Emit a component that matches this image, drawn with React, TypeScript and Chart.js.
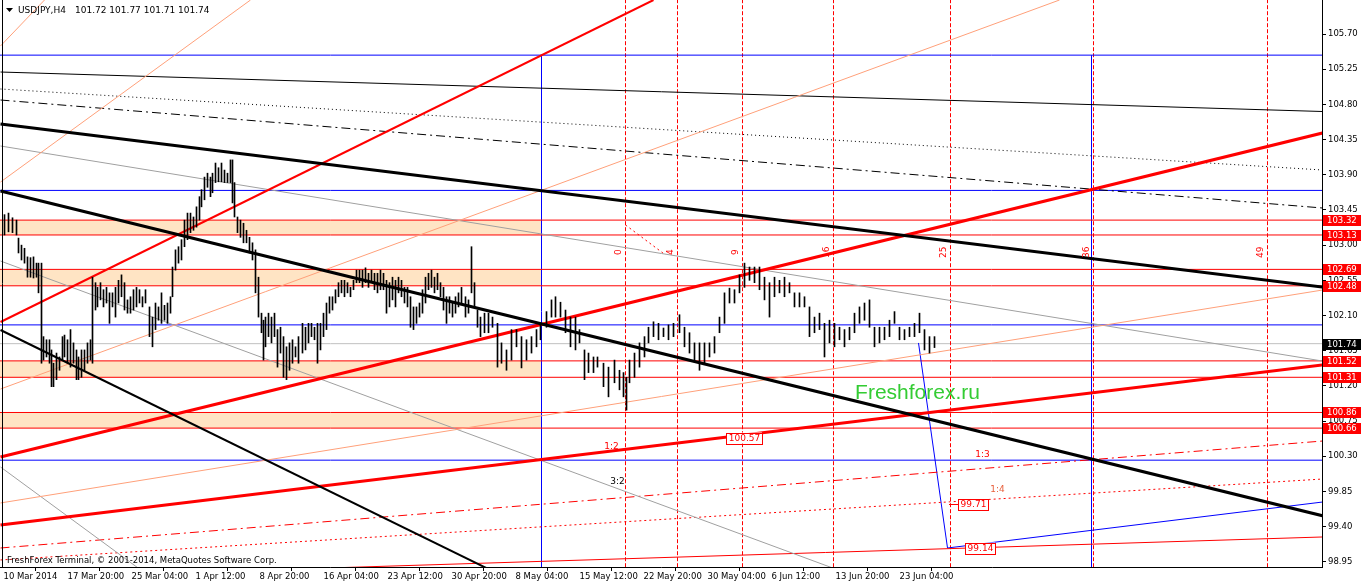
import React, { useEffect, useRef } from "react";
import { Chart, registerables } from "chart.js";

Chart.register(...registerables);

// ---------- axis ranges ----------
const PRICE_MIN = 98.884;
const PRICE_MAX = 106.135;
const BAR_MIN = -1.75;
const BAR_MAX = 659.25;

// ---------- tick labels ----------
const yTickValues = [98.95, 99.4, 99.85, 100.3, 100.75, 101.2, 101.65, 102.1, 102.55, 103.0, 103.45, 103.9, 104.35, 104.8, 105.25, 105.7];
const xTickBars = [0, 32, 64, 96, 128, 160, 192, 224, 256, 288, 320, 352, 384, 416, 448];
const xTickLabels = [
  "10 Mar 2014", "17 Mar 20:00", "25 Mar 04:00", "1 Apr 12:00", "8 Apr 20:00", "16 Apr 04:00",
  "23 Apr 12:00", "30 Apr 20:00", "8 May 04:00", "15 May 12:00", "22 May 20:00", "30 May 04:00",
  "6 Jun 12:00", "13 Jun 20:00", "23 Jun 04:00",
];

// ---------- price bars: [bar, low, high] ----------
const candles: [number, number, number][] = [
  [0.5,103.13,103.39],[2.5,103.17,103.41],[4.5,103.16,103.35],[6.5,103.13,103.32],[7.5,102.90,103.09],[9,102.81,103.00],[10.5,102.77,102.96],[12,102.59,102.85],[13.5,102.59,102.84],[15,102.58,102.85],[16.5,102.59,102.77],[17.5,102.39,102.77],[19,101.49,102.77],[20,101.53,101.83],[21.5,101.57,101.79],[23,101.49,101.79],[24,101.19,101.66],[25,101.19,101.49],[26.5,101.28,101.62],[28,101.40,101.57],[29.5,101.53,101.83],[30.5,101.57,101.85],[32,101.49,101.79],[33.5,101.44,101.92],[35,101.49,101.75],[36.5,101.28,101.66],[37.5,101.28,101.57],[39,101.31,101.66],[40.5,101.40,101.66],[42,101.49,101.75],[43.5,101.53,101.79],[44.5,101.49,102.59],[46,102.17,102.52],[47,102.21,102.46],[48.5,102.30,102.52],[50,102.21,102.43],[51.5,102.26,102.46],[53,102.00,102.39],[54.5,102.21,102.39],[56,102.08,102.46],[57.5,102.26,102.55],[59,102.34,102.62],[60.5,102.17,102.52],[62,102.13,102.30],[63.5,102.13,102.34],[65,102.17,102.43],[66.5,102.21,102.46],[68,102.26,102.43],[69.5,102.21,102.34],[71,102.26,102.43],[73,101.83,102.21],[74.5,101.70,102.08],[76,101.92,102.26],[77.5,102.04,102.21],[79,102.00,102.39],[80.5,102.04,102.23],[82,102.00,102.26],[83.5,102.13,102.34],[84.5,102.34,102.72],[86,102.68,102.94],[87.5,102.77,102.98],[89,102.81,103.07],[90.5,102.98,103.32],[92,103.07,103.41],[93.5,103.16,103.41],[95,103.19,103.36],[96.5,103.23,103.49],[98,103.32,103.62],[99,103.49,103.71],[100.5,103.58,103.87],[102,103.74,103.92],[103.5,103.62,103.87],[104.5,103.67,103.92],[106,103.80,104.05],[107.5,103.81,103.99],[109,103.81,104.05],[110.5,103.80,103.96],[112,103.80,103.92],[113.5,103.80,104.09],[114.5,103.54,104.09],[115.5,103.36,103.80],[117,103.16,103.36],[118.5,103.10,103.32],[120,103.03,103.28],[121.5,103.03,103.19],[123,102.90,103.10],[124.5,102.81,103.03],[126,102.39,102.94],[127.5,102.08,102.59],[129,101.88,102.13],[130,101.53,102.04],[131,101.70,102.08],[132.5,101.83,102.13],[134,101.75,102.08],[135.5,101.83,102.13],[137,101.44,101.92],[138.5,101.62,101.95],[140,101.31,101.83],[141.5,101.28,101.70],[143,101.40,101.75],[144.5,101.49,101.79],[146,101.57,101.70],[147.5,101.49,101.83],[149.5,101.62,102.00],[151,101.66,101.95],[152.5,101.75,102.00],[154,101.83,102.00],[155.5,101.79,101.95],[157,101.49,102.00],[158.5,101.66,102.00],[160,101.83,102.13],[161.5,101.92,102.26],[163,102.13,102.34],[164.5,102.17,102.34],[166,102.26,102.43],[167.5,102.34,102.52],[169,102.39,102.55],[170.5,102.34,102.55],[172,102.39,102.52],[173.5,102.34,102.46],[175,102.43,102.55],[176.5,102.52,102.68],[178,102.52,102.68],[179.5,102.46,102.68],[181,102.52,102.71],[182.5,102.46,102.64],[184,102.52,102.68],[185.5,102.43,102.64],[187,102.39,102.64],[188.5,102.43,102.68],[190,102.43,102.64],[191.5,102.13,102.55],[193,102.21,102.52],[194.5,102.30,102.59],[196,102.21,102.55],[197.5,102.39,102.59],[199,102.34,102.55],[200.5,102.26,102.46],[202,102.21,102.46],[203.5,101.95,102.34],[205,101.92,102.21],[206.5,102.00,102.21],[208,102.08,102.26],[209.5,102.13,102.43],[211,102.26,102.59],[212.5,102.43,102.64],[214,102.46,102.68],[215.5,102.39,102.59],[217,102.43,102.64],[218.5,102.34,102.52],[220,102.17,102.46],[221.5,102.00,102.34],[223,102.13,102.34],[224.5,102.08,102.26],[226,102.13,102.34],[227.5,102.21,102.39],[229,102.26,102.46],[231,102.08,102.34],[232.5,102.13,102.30],[234,102.39,102.98],[235.5,102.21,102.52],[237,101.95,102.17],[238.5,101.83,102.08],[240.5,101.88,102.13],[242.5,101.88,102.13],[244.5,101.95,102.08],[247,101.44,102.00],[249,101.49,101.75],[251.5,101.40,101.66],[254,101.53,101.92],[256.5,101.70,101.92],[259,101.43,101.83],[261.5,101.53,101.79],[264,101.62,101.83],[266.5,101.70,101.92],[268.5,101.79,102.00],[271.5,101.95,102.15],[274,102.08,102.30],[276,102.08,102.34],[278.5,102.08,102.27],[281,101.88,102.17],[283.5,101.70,102.08],[286,101.66,102.08],[288,101.75,101.92],[290.5,101.28,101.66],[292.5,101.37,101.62],[295,101.37,101.57],[297,101.44,101.57],[300,101.19,101.49],[302.5,101.06,101.44],[305.5,101.24,101.53],[308,101.15,101.40],[310,101.06,101.37],[311.5,100.89,101.31],[313,101.24,101.53],[315.5,101.31,101.62],[318,101.44,101.75],[320.5,101.57,101.83],[322.5,101.75,101.95],[325,101.83,102.02],[327.5,101.79,102.00],[330,101.83,101.94],[332.5,101.79,101.98],[335,101.83,102.00],[338,101.88,102.11],[340.5,101.70,101.95],[343,101.62,101.88],[345.5,101.53,101.75],[348,101.40,101.75],[350.5,101.49,101.75],[353,101.57,101.75],[355.5,101.62,101.83],[358,101.88,102.08],[360.5,102.00,102.39],[363,102.26,102.45],[365.5,102.26,102.43],[368,102.39,102.62],[370.5,102.46,102.77],[373,102.55,102.72],[375.5,102.52,102.72],[378,102.43,102.72],[380.5,102.30,102.59],[383,102.08,102.52],[385.5,102.34,102.59],[388,102.39,102.55],[390.5,102.34,102.59],[393,102.39,102.52],[395.5,102.21,102.39],[398,102.21,102.39],[400.5,102.21,102.34],[403,101.83,102.21],[405.5,101.88,102.08],[408,101.92,102.13],[410.5,101.57,102.00],[413,101.75,102.04],[415.5,101.70,102.00],[418,101.79,101.95],[420.5,101.70,101.92],[423,101.79,101.95],[425.5,101.88,102.13],[428,102.00,102.21],[430.5,102.04,102.26],[433,101.95,102.30],[435.5,101.70,101.95],[438,101.75,101.95],[440.5,101.79,101.95],[443,101.83,102.04],[445.5,102.00,102.15],[448,101.79,101.95],[450.5,101.79,101.92],[453,101.83,101.95],[455.5,101.83,102.00],[458,101.88,102.13],[460.5,101.66,101.92],[463,101.62,101.83],[465.5,101.69,101.83],
];

// ---------- horizontal levels ----------
const redLevels = [103.32, 103.13, 102.69, 102.48, 101.52, 101.31, 100.86, 100.66];
const blueLevels = [105.43, 103.70, 101.98, 100.25];
const bidPrice = 101.74;
const zones: [number, number][] = [[103.13, 103.32], [102.48, 102.69], [101.31, 101.52], [100.66, 100.86]];
const zoneEndBar = 269;

// ---------- vertical lines ----------
const blueVerticalBars = [269, 544];
const blueVerticalTop = 105.43;
const timeLineBars = [311, 337, 369.5, 415, 473.5, 545, 632];
const timeLineLabels = ["0", "4", "9", "16", "25", "36", "49"];
const timeLabelPrice = 102.91;

// ---------- trend lines: [bar, price] end points ----------
type Pt = [number, number];
const blackThinLine: Pt[] = [[-1.5, 105.214], [659.5, 104.709]];
const blackDottedLine: Pt[] = [[-1.5, 104.997], [659.5, 103.961]];
const blackDashDotLine: Pt[] = [[-1.5, 104.856], [659.5, 103.475]];
const blackThickUpper: Pt[] = [[-1.5, 104.549], [659.5, 102.465]];
const grayLine1: Pt[] = [[-1.5, 104.268], [659.5, 101.518]];
const blackThickLower: Pt[] = [[-1.5, 103.692], [659.5, 99.54]];
const blackSteepLine: Pt[] = [[-1.5, 101.915], [248.5, 98.782]];
const grayLine2: Pt[] = [[-1.5, 102.797], [416, 98.858]];
const grayLine3: Pt[] = [[-1.5, 100.163], [68, 98.858]];
const redThick1: Pt[] = [[-1.5, 102.017], [325, 106.135]];
const redThick2: Pt[] = [[-1.5, 100.291], [659.5, 104.434]];
const redThick3: Pt[] = [[-1.5, 99.421], [659.5, 101.467]];
const salmonA: Pt[] = [[-1.5, 103.807], [123.5, 106.135]];
const salmonB: Pt[] = [[-1.5, 105.547], [20.5, 106.135]];
const salmonC: Pt[] = [[-1.5, 101.16], [528, 106.135]];
const salmonF: Pt[] = [[-1.5, 99.703], [659.5, 102.426]];
const redDashDot: Pt[] = [[-1.5, 99.127], [659.5, 100.495]];
const redDotted: Pt[] = [[-1.5, 98.974], [659.5, 100.009]];
const redThin: Pt[] = [[146, 98.858], [659.5, 99.268]];
const blueDrop: Pt[] = [[457.5, 101.749], [472, 99.127]];
const blueRise: Pt[] = [[472, 99.127], [659.5, 99.715]];
const redArcDash: Pt[] = [[311, 103.258], [331, 102.874]];

// ---------- text labels ----------
const ratioLabels: [string, number, number][] = [["1:2", 304, 100.418], ["3:2", 307, 99.971], ["1:3", 489.5, 100.316], ["1:4", 497, 99.869]];
const boxedLabels: [string, number, number][] = [["100.57", 370.5, 100.534], ["99.71", 484.5, 99.69], ["99.14", 488, 99.127]];
const axisRedLabels = [103.32, 103.13, 102.69, 102.48, 101.52, 101.31, 100.86, 100.66];
const watermark: [string, number, number] = ["Freshforex.ru", 457, 101.109];
const headerSymbol = "USDJPY,H4";
const headerPrices = "101.72 101.77 101.71 101.74";
const footerText = "FreshForex Terminal, \u00A9 2001-2014, MetaQuotes Software Corp.";

const RED = "#FF0000";
const BLUE = "#0000FF";
const SALMON = "#FFA07A";
const GRAY = "#A0A0A0";
const BISQUE = "#FFE4C4";
const FONT = "'DejaVu Sans', 'Liberation Sans', sans-serif";

const line = (pts: Pt[], color: string, width: number, dash: number[] = [], order = 2) => ({
  type: "line" as const,
  data: pts.map(([x, y]) => ({ x, y })),
  borderColor: color,
  borderWidth: width,
  borderDash: dash,
  pointRadius: 0,
  fill: false,
  tension: 0,
  order,
});

const overlayPlugin = {
  id: "mt4overlay",
  beforeDatasetsDraw(chart: any) {
    const { ctx, chartArea: a, scales } = chart;
    const xs = scales.x, ys = scales.y;
    ctx.save();
    ctx.beginPath();
    ctx.rect(a.left, a.top, a.right - a.left, a.bottom - a.top);
    ctx.clip();
    ctx.fillStyle = BISQUE;
    zones.forEach(([lo, hi]) => {
      const x0 = xs.getPixelForValue(BAR_MIN);
      const x1 = xs.getPixelForValue(zoneEndBar);
      const y0 = ys.getPixelForValue(hi);
      const y1 = ys.getPixelForValue(lo);
      ctx.fillRect(x0, y0, x1 - x0, y1 - y0);
    });
    ctx.restore();
  },
  afterDatasetsDraw(chart: any) {
    const { ctx, chartArea: a, scales } = chart;
    const xs = scales.x, ys = scales.y;
    ctx.save();
    ctx.beginPath();
    ctx.rect(a.left, a.top, a.right - a.left, a.bottom - a.top);
    ctx.clip();

    // time-line numbers (rotated)
    ctx.fillStyle = RED;
    ctx.font = `9px ${FONT}`;
    ctx.textAlign = "center";
    ctx.textBaseline = "middle";
    timeLineBars.forEach((b, i) => {
      const px = xs.getPixelForValue(b) - 7;
      const py = ys.getPixelForValue(timeLabelPrice);
      ctx.save();
      ctx.translate(px, py);
      ctx.rotate(-Math.PI / 2);
      ctx.fillText(timeLineLabels[i], 0, 0);
      ctx.restore();
    });

    // ratio labels
    ratioLabels.forEach(([t, b, p]) => {
      ctx.fillStyle = t === "3:2" ? "#000000" : t === "1:4" ? "#E8603C" : RED;
      ctx.fillText(t, xs.getPixelForValue(b), ys.getPixelForValue(p));
    });

    // boxed price labels
    ctx.font = `9px ${FONT}`;
    boxedLabels.forEach(([t, b, p]) => {
      const cx = Math.round(xs.getPixelForValue(b));
      const cy = Math.round(ys.getPixelForValue(p));
      const w = Math.ceil(ctx.measureText(t).width) + 4;
      const h = 11;
      ctx.fillStyle = "#FFFFFF";
      ctx.fillRect(cx - w / 2, cy - h / 2, w, h);
      ctx.strokeStyle = RED;
      ctx.lineWidth = 1;
      ctx.strokeRect(Math.round(cx - w / 2) + 0.5, Math.round(cy - h / 2) + 0.5, w, h);
      ctx.fillStyle = RED;
      ctx.fillText(t, cx + 0.5, cy + 1);
      if (t === "99.71") {
        ctx.beginPath();
        ctx.moveTo(cx - w / 2 - 9, cy + 0.5);
        ctx.lineTo(cx - w / 2, cy + 0.5);
        ctx.stroke();
      }
    });

    // watermark
    ctx.font = `21px 'Liberation Sans', Arial, sans-serif`;
    ctx.fillStyle = "#33CC33";
    ctx.fillText(watermark[0], xs.getPixelForValue(watermark[1]), ys.getPixelForValue(watermark[2]));

    // header
    ctx.fillStyle = "#000000";
    ctx.beginPath();
    ctx.moveTo(6, 8);
    ctx.lineTo(13, 8);
    ctx.lineTo(9.5, 12);
    ctx.closePath();
    ctx.fill();
    ctx.font = `9px ${FONT}`;
    ctx.textAlign = "left";
    ctx.fillText(headerSymbol, 18, 11);
    ctx.fillText(headerPrices, 75, 11);

    // footer
    ctx.font = `8.5px ${FONT}`;
    ctx.fillText(footerText, 7, 561);
    ctx.restore();

    // left frame
    ctx.save();
    ctx.strokeStyle = "#000000";
    ctx.lineWidth = 1;
    ctx.beginPath();
    ctx.moveTo(2.5, a.top);
    ctx.lineTo(2.5, a.bottom);
    ctx.stroke();
    ctx.restore();
  },
  afterDraw(chart: any) {
    const { ctx, chartArea: a, scales } = chart;
    const ys = scales.y;
    ctx.save();
    ctx.font = `8.5px ${FONT}`;
    ctx.textAlign = "left";
    ctx.textBaseline = "middle";
    const drawTag = (p: number, bg: string) => {
      const cy = Math.round(ys.getPixelForValue(p));
      ctx.fillStyle = bg;
      ctx.fillRect(a.right + 1, cy - 5, 38, 11);
      ctx.fillStyle = "#FFFFFF";
      ctx.fillText(p.toFixed(2), a.right + 5, cy + 0.5);
    };
    axisRedLabels.forEach((p) => drawTag(p, RED));
    drawTag(bidPrice, "#000000");
    ctx.restore();
  },
};

export default function App() {
  const ref = useRef<HTMLCanvasElement | null>(null);

  useEffect(() => {
    if (!ref.current) return;
    Chart.defaults.font.family = FONT;
    Chart.defaults.font.size = 8.5;
    Chart.defaults.color = "#000000";

    const datasets: any[] = [];

    datasets.push({
      type: "bar",
      data: candles.map(([b, lo, hi]) => ({ x: b, y: [lo, hi] })),
      backgroundColor: "#000000",
      borderWidth: 0,
      barThickness: 1,
      order: 0,
    });

    redLevels.forEach((p) => datasets.push(line([[BAR_MIN, p], [BAR_MAX, p]], RED, 1, [], 5)));
    blueLevels.forEach((p) => datasets.push(line([[BAR_MIN, p], [BAR_MAX, p]], BLUE, 1, [], 5)));
    datasets.push(line([[BAR_MIN, bidPrice], [BAR_MAX, bidPrice]], "#C0C0C0", 1, [], 6));
    blueVerticalBars.forEach((b) => datasets.push(line([[b, PRICE_MIN - 1], [b, blueVerticalTop]], BLUE, 1, [], 5)));
    timeLineBars.forEach((b) => datasets.push(line([[b, PRICE_MIN - 1], [b, PRICE_MAX + 1]], RED, 1, [4, 2], 5)));

    datasets.push(line(salmonA, SALMON, 1));
    datasets.push(line(salmonB, SALMON, 1));
    datasets.push(line(salmonC, SALMON, 1));
    datasets.push(line(salmonF, SALMON, 1));
    datasets.push(line(grayLine1, GRAY, 1));
    datasets.push(line(grayLine2, GRAY, 1));
    datasets.push(line(grayLine3, GRAY, 1));
    datasets.push(line(blackThinLine, "#000000", 1));
    datasets.push(line(blackDottedLine, "#000000", 1, [1, 3]));
    datasets.push(line(blackDashDotLine, "#000000", 1, [9, 4, 2, 4]));
    datasets.push(line(redDashDot, RED, 1, [9, 4, 2, 4]));
    datasets.push(line(redDotted, RED, 1, [2, 3]));
    datasets.push(line(redThin, RED, 1));
    datasets.push(line(redArcDash, RED, 1, [2, 3]));
    datasets.push(line(blueDrop, BLUE, 1));
    datasets.push(line(blueRise, BLUE, 1));
    datasets.push(line(blackThickUpper, "#000000", 3, [], 1));
    datasets.push(line(blackThickLower, "#000000", 3, [], 1));
    datasets.push(line(blackSteepLine, "#000000", 2, [], 1));
    datasets.push(line(redThick1, RED, 2, [], 1));
    datasets.push(line(redThick2, RED, 3, [], 1));
    datasets.push(line(redThick3, RED, 3, [], 1));

    const chart = new Chart(ref.current, {
      type: "line",
      data: { datasets },
      plugins: [overlayPlugin],
      options: {
        animation: false,
        responsive: false,
        devicePixelRatio: 1,
        events: [],
        layout: { padding: 0 },
        plugins: { legend: { display: false }, tooltip: { enabled: false } },
        scales: {
          x: {
            type: "linear",
            min: BAR_MIN,
            max: BAR_MAX,
            offset: false,
            grid: { display: true, drawOnChartArea: false, drawTicks: true, tickLength: 4, color: "#000000" },
            border: { display: true, color: "#000000" },
            ticks: {
              autoSkip: false,
              maxRotation: 0,
              minRotation: 0,
              align: "start",
              padding: 1,
              color: "#000000",
              font: { size: 8.5, family: FONT },
              callback: (_v: any, i: number) => xTickLabels[i] ?? "",
            },
            afterBuildTicks: (s: any) => {
              s.ticks = xTickBars.map((v) => ({ value: v }));
            },
            afterFit: (s: any) => {
              s.height = 19;
              s.paddingLeft = 0;
              s.paddingRight = 0;
            },
          },
          y: {
            type: "linear",
            position: "right",
            min: PRICE_MIN,
            max: PRICE_MAX,
            grid: { display: true, drawOnChartArea: false, drawTicks: true, tickLength: 4, color: "#000000" },
            border: { display: true, color: "#000000" },
            ticks: {
              autoSkip: false,
              padding: 2,
              color: "#000000",
              font: { size: 8.5, family: FONT },
              callback: (v: any) => Number(v).toFixed(2),
            },
            afterBuildTicks: (s: any) => {
              s.ticks = yTickValues.map((v) => ({ value: v }));
            },
            afterFit: (s: any) => {
              s.width = 40;
              s.paddingTop = 0;
              s.paddingBottom = 0;
            },
          },
        },
      } as any,
    });
    return () => chart.destroy();
  }, []);

  return (
    <div style={{ position: "absolute", left: 0, top: 0, width: 1362, height: 586, background: "#FFFFFF" }}>
      <canvas ref={ref} width={1362} height={586} style={{ width: 1362, height: 586, display: "block" }} />
    </div>
  );
}
